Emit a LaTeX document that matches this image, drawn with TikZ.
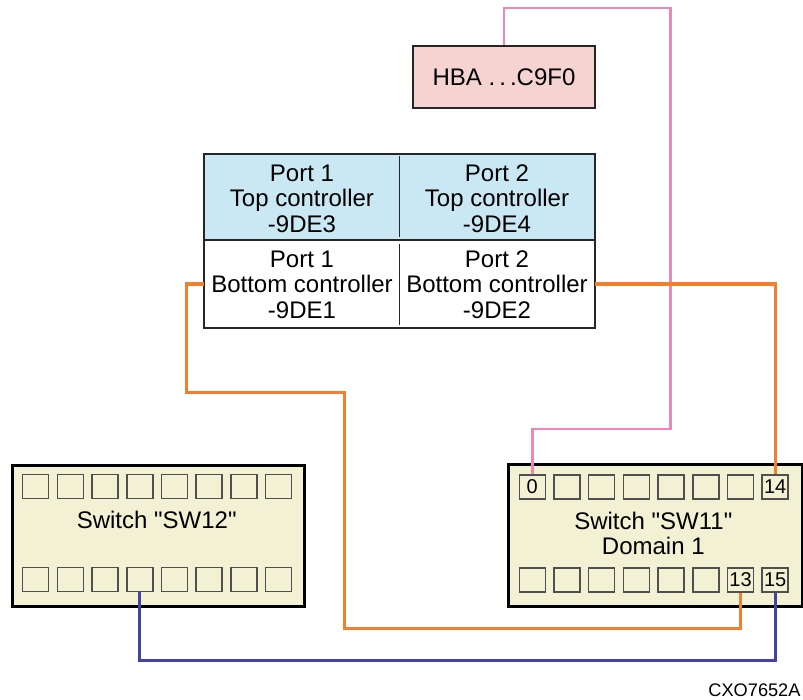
\documentclass[tikz,border=0pt]{standalone}
\usepackage{fontspec}
\setmainfont{Liberation Sans}[Ligatures=TeXOff]
\definecolor{swfill}{HTML}{F3F1D3}
\definecolor{topfill}{HTML}{C9E8F3}
\definecolor{hbafill}{HTML}{F5D3D1}
\definecolor{pinkline}{HTML}{EE86B8}
\definecolor{orangeline}{HTML}{F0802E}
\definecolor{blueline}{HTML}{4444A0}
\definecolor{portgray}{HTML}{505050}
\tikzset{
  bigtext/.style={font=\fontsize{24}{25.5}\selectfont},
  switchbox/.style={draw=black, line width=2.8pt, fill=swfill, inner sep=0pt, anchor=north west},
  portbox/.style={draw=portgray, line width=1.5pt, minimum width=26pt, minimum height=24pt, inner sep=0pt, font=\fontsize{19}{19}\selectfont},
  cell/.style={inner sep=0pt, anchor=north west, align=center, bigtext},
  pinkwire/.style={draw=pinkline, line width=2.8pt},
  orangewire/.style={draw=orangeline, line width=3.3pt},
  bluewire/.style={draw=blueline, line width=3pt},
}
\begin{document}
\begin{tikzpicture}[x=1pt,y=-1pt]
\useasboundingbox (0,0) rectangle (803,699);

% HBA
\node[draw=black!85, line width=2.2pt, fill=hbafill, minimum width=182.6pt, minimum height=62.6pt, inner sep=0pt, bigtext] (hba) at (504,77) {HBA .\,.\,.C9F0};

% Table cells
\node[cell, fill=topfill, minimum width=195.7pt, minimum height=86pt] (tl) at (204,154) {};
\node[cell, fill=topfill, minimum width=194.6pt, minimum height=86pt] (tr) at (399.7,154) {};
\node[cell, fill=white, minimum width=195.7pt, minimum height=87.3pt] (bl) at (204,240) {};
\node[cell, fill=white, minimum width=194.6pt, minimum height=87.3pt] (br) at (399.7,240) {};
\node[bigtext, align=center] (tltext) at (302,198.5) {Port 1\\Top controller\\-9DE3};
\node[bigtext, align=center] (trtext) at (497,198.5) {Port 2\\Top controller\\-9DE4};
\node[bigtext, align=center] (bltext) at (302,284.5) {Port 1\\Bottom controller\\-9DE1};
\node[bigtext, align=center] (brtext) at (497,284.5) {Port 2\\Bottom controller\\-9DE2};
\draw[line width=2pt, black!85] (tl.north west) rectangle (br.south east);
\draw[line width=2pt, black!85] (tl.south west) -- (tr.south east);
\draw[line width=1.2pt, black!85] (399.7,156) -- (399.7,237);
\draw[line width=1.2pt, black!85] (399.7,244) -- (399.7,325);

% Switch SW12
\node[switchbox, minimum width=292.6pt, minimum height=141.3pt] (sw12) at (10.7,464) {};
\node[bigtext] (sw12text) at (156.7,520) {Switch "SW12"};
\foreach \i in {0,...,7} {
  \node[portbox] (a\i) at ({35.7+34.7*\i},486.5) {};
  \node[portbox] (b\i) at ({35.7+34.7*\i},579.5) {};
}

% Switch SW11
\node[switchbox, minimum width=293.4pt, minimum height=142pt] (sw11) at (507.3,463.3) {};
\node[bigtext, align=center] (sw11text) at (653.3,533.5) {Switch "SW11"\\Domain 1};
\foreach \i in {0,...,7} {
  \node[portbox] (c\i) at ({532.3+34.7*\i},487) {};
  \node[portbox] (d\i) at ({532.3+34.7*\i},580) {};
}
\node[font=\fontsize{20}{20}\selectfont, inner sep=0pt] (lab0) at (c0) {0};
\node[font=\fontsize{20}{20}\selectfont, inner sep=0pt] (lab14) at (c7) {14};
\node[font=\fontsize{20}{20}\selectfont, inner sep=0pt] (lab13) at (d6) {13};
\node[font=\fontsize{20}{20}\selectfont, inner sep=0pt] (lab15) at (d7) {15};

% Wire corner coordinates
\coordinate (pk1) at (hba.north |- 0,8);
\coordinate (pk2) at (670.7,8);
\coordinate (pk3) at (670.7,429);
\coordinate (pk4) at (c0.north |- 0,429);

\coordinate (or2) at (186.7,392.3);
\coordinate (or3) at (344.7,392.3);
\coordinate (or4) at (344.7,628.7);
\coordinate (or5) at (d6.south |- 0,628.7);

\coordinate (bl1) at (b3.south |- 0,660.7);
\coordinate (bl2) at (d7.south |- 0,660.7);

% Pink wire HBA -> port 0
\draw[pinkwire] (hba.north) -- (pk1) -- (pk2) -- (pk3) -- (pk4) -- (c0.north);
% Orange wire bottom port 2 -> port 14
\draw[orangewire] (br.east |- 0,284) -- (c7.north |- 0,284) -- (c7.north);
% Orange wire bottom port 1 -> port 13
\draw[orangewire] (bl.west |- 0,284) -- (186.7,284) -- (or2) -- (or3) -- (or4) -- (or5) -- (d6.south);
% Blue wire SW12 -> port 15
\draw[bluewire] (b3.south) -- (bl1) -- (bl2) -- (d7.south);

\node[font=\fontsize{18.2}{18.2}\selectfont, anchor=east, inner sep=0pt] (code) at (800.7,690) {CXO7652A};
\end{tikzpicture}
\end{document}
